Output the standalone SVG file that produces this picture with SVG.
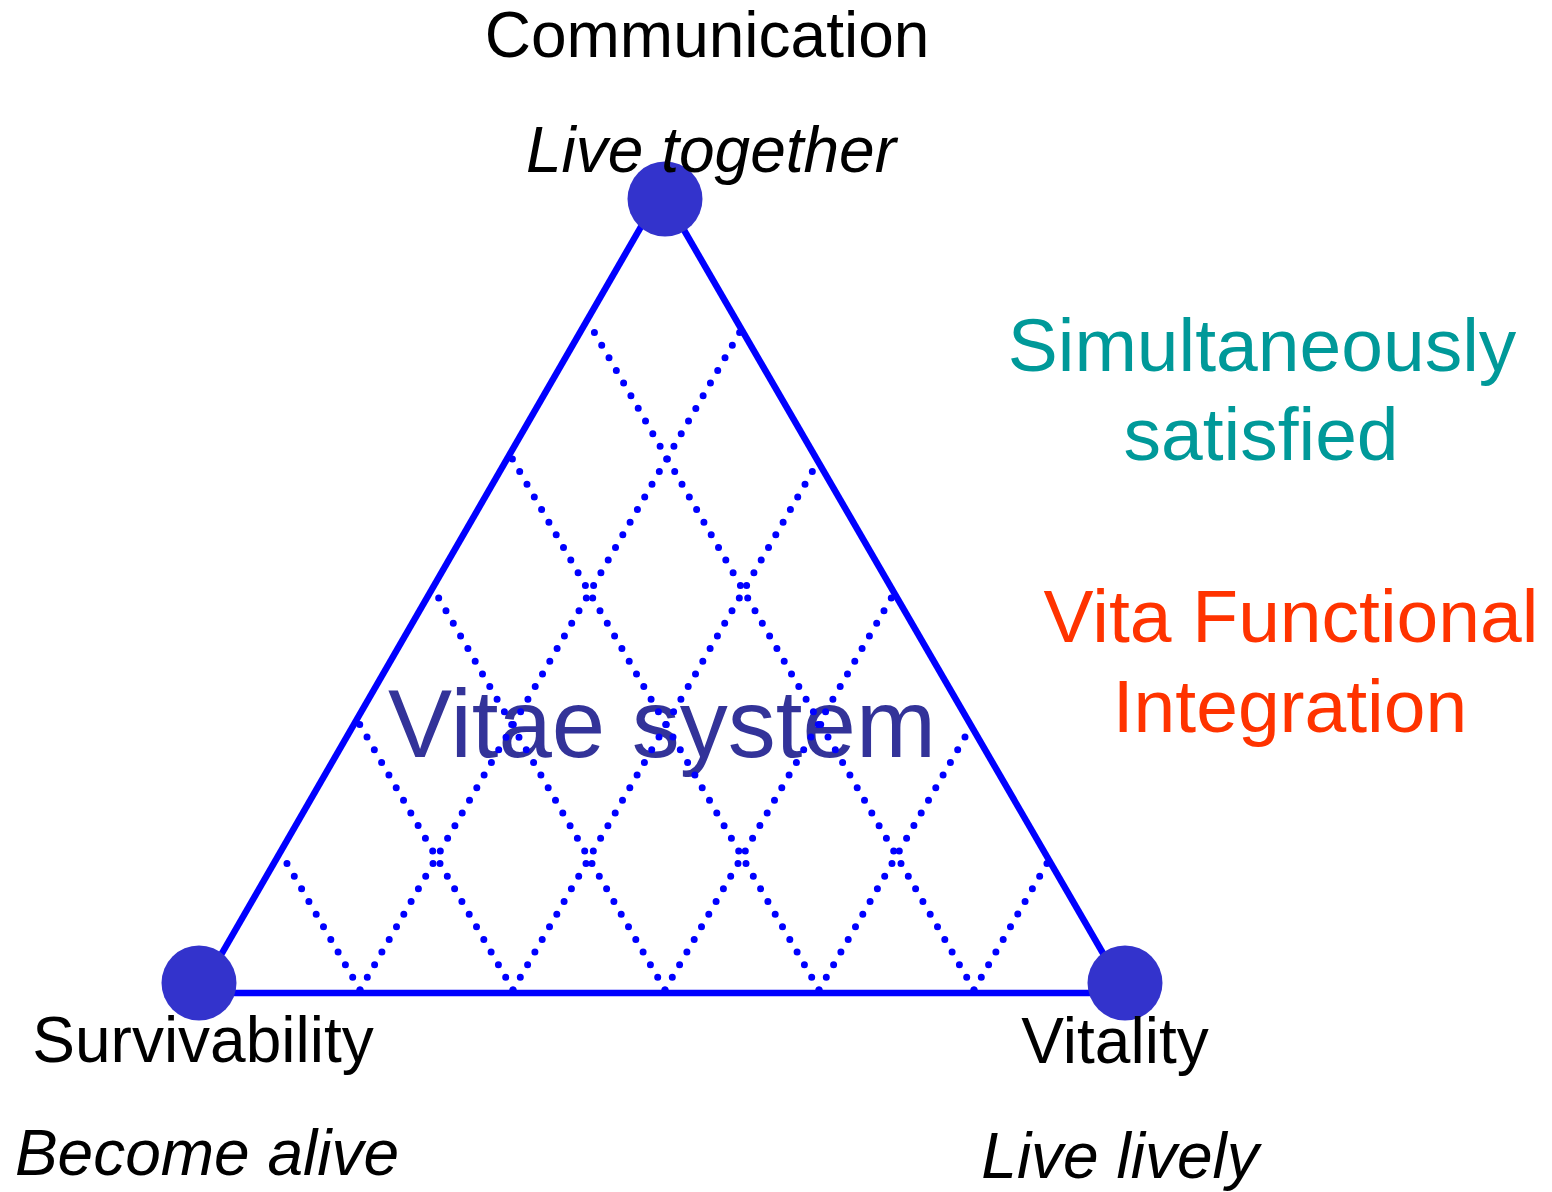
<svg xmlns="http://www.w3.org/2000/svg" width="1552" height="1192" viewBox="0 0 1552 1192">
<style>
  text { font-family: "Liberation Sans", Arial, sans-serif; }
  .lbl { font-size: 64px; fill: #000000; text-anchor: middle; }
  .it { font-style: italic; }
  .edge { stroke: #0000ff; stroke-width: 6.5; fill: none; }
  .dot { stroke: #0000ff; stroke-width: 7; stroke-linecap: round; stroke-dasharray: 0 14.6; fill: none; }
  .vertex { fill: #3333cc; }
</style>
<rect width="1552" height="1192" fill="#ffffff"/>
<g id="title">
  <text x="662" y="757" font-size="96" fill="#333399" text-anchor="middle">Vitae system</text>
</g>
<g id="connectors">
  <line class="edge" x1="199" y1="993" x2="657" y2="199"/>
  <line class="edge" x1="666" y1="199" x2="1126" y2="993"/>
  <line class="edge" x1="199" y1="993" x2="1126" y2="993"/>
  <g id="grid">
    <path class="dot" d="M360,990 L280.3,852"/>
    <path class="dot" d="M513,990 L356.8,719.4"/>
    <path class="dot" d="M665,990 L432.7,587.7"/>
    <path class="dot" d="M819,990 L509.7,454.3"/>
    <path class="dot" d="M974,990 L587.2,320"/>
    <path class="dot" d="M360,990 L741.6,329.1"/>
    <path class="dot" d="M513,990 L818.2,461.4"/>
    <path class="dot" d="M665,990 L894.3,592.8"/>
    <path class="dot" d="M819,990 L971.4,726"/>
    <path class="dot" d="M974,990 L1049,860"/>
  </g>
</g>
<g id="node-communication">
  <circle class="vertex" cx="665" cy="199" r="37.5"/>
  <text class="lbl" x="707" y="57">Communication</text>
  <text class="lbl it" x="711" y="172">Live together</text>
</g>
<g id="node-survivability">
  <circle class="vertex" cx="199" cy="983" r="37.5"/>
  <text class="lbl" x="203" y="1062">Survivability</text>
  <text class="lbl it" x="207" y="1175">Become alive</text>
</g>
<g id="node-vitality">
  <circle class="vertex" cx="1125" cy="983" r="37.5"/>
  <text class="lbl" x="1115" y="1063">Vitality</text>
  <text class="lbl it" x="1120" y="1178">Live lively</text>
</g>
<g id="note-simultaneously">
  <text x="1262" y="371" font-size="75" fill="#009999" text-anchor="middle">Simultaneously</text>
  <text x="1261" y="460" font-size="75" fill="#009999" text-anchor="middle">satisfied</text>
</g>
<g id="note-vita">
  <text x="1291" y="642" font-size="75" fill="#ff3300" text-anchor="middle">Vita Functional</text>
  <text x="1290" y="732" font-size="75" fill="#ff3300" text-anchor="middle">Integration</text>
</g>
</svg>
